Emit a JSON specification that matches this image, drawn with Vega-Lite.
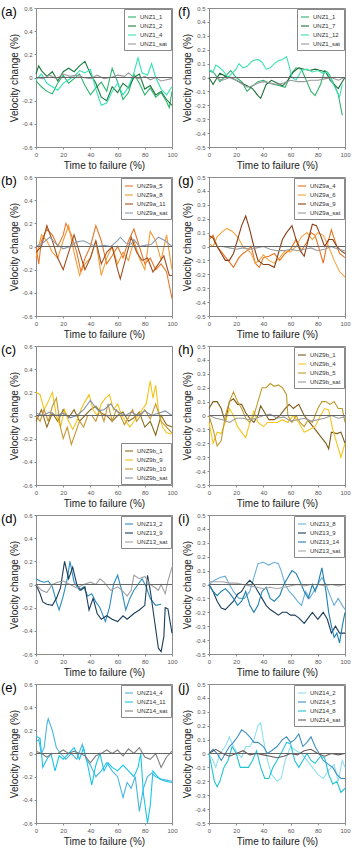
{
"$schema":"https://vega.github.io/schema/vega-lite/v6.json",
"background":"white",
"padding":{"left":0,"top":4,"right":0,"bottom":0},
"config":{
"font":"Liberation Sans",
"view":{"stroke":"#8c8c8c","strokeWidth":1},
"axis":{"grid":false,"domainColor":"#8c8c8c","tickColor":"#8c8c8c","tickSize":2,"tickCount":12,"labelFontSize":6,"labelColor":"#555","labelPadding":2,"labelOverlap":false,"labelFlush":false,"titleFontSize":10,"titleFontWeight":"normal","titleColor":"#222"},
"axisX":{"titlePadding":3},
"axisY":{"titlePadding":2,"labelExpr":"datum.value === 0 ? '0' : replace(format(datum.value, '.1f'), '−', '-')"},
"legend":{"orient":"top-right","offset":1,"padding":3,"rowPadding":1,"labelFontSize":6,"labelColor":"#333","symbolType":"stroke","symbolSize":64,"symbolStrokeWidth":1.5,"strokeColor":"#888","fillColor":"white","labelOffset":3,"labelLimit":60},
"title":{"anchor":"start","frame":"group","fontSize":13,"fontWeight":"normal","color":"#000","offset":0,"dy":18,"baseline":"bottom"},
"line":{"strokeWidth":1.1}
},
"datasets":{
"a":[
{"s":"UNZ1_1","x":0,"y":-0.03},{"s":"UNZ1_1","x":4,"y":-0.08},{"s":"UNZ1_1","x":8,"y":-0.12},{"s":"UNZ1_1","x":12,"y":-0.14},{"s":"UNZ1_1","x":16,"y":-0.05},{"s":"UNZ1_1","x":20,"y":0.02},{"s":"UNZ1_1","x":24,"y":-0.05},{"s":"UNZ1_1","x":28,"y":-0.01},{"s":"UNZ1_1","x":32,"y":0.03},{"s":"UNZ1_1","x":36,"y":-0.07},{"s":"UNZ1_1","x":40,"y":-0.15},{"s":"UNZ1_1","x":44,"y":-0.09},{"s":"UNZ1_1","x":48,"y":-0.04},{"s":"UNZ1_1","x":52,"y":-0.12},{"s":"UNZ1_1","x":56,"y":0.08},{"s":"UNZ1_1","x":60,"y":-0.04},{"s":"UNZ1_1","x":64,"y":-0.19},{"s":"UNZ1_1","x":68,"y":-0.13},{"s":"UNZ1_1","x":72,"y":0.03},{"s":"UNZ1_1","x":76,"y":-0.05},{"s":"UNZ1_1","x":80,"y":-0.15},{"s":"UNZ1_1","x":84,"y":-0.09},{"s":"UNZ1_1","x":88,"y":-0.17},{"s":"UNZ1_1","x":92,"y":-0.13},{"s":"UNZ1_1","x":96,"y":-0.21},{"s":"UNZ1_1","x":98,"y":-0.26},{"s":"UNZ1_1","x":100,"y":-0.12},
{"s":"UNZ1_2","x":0,"y":0.03},{"s":"UNZ1_2","x":2,"y":0.1},{"s":"UNZ1_2","x":4,"y":0.06},{"s":"UNZ1_2","x":8,"y":0.01},{"s":"UNZ1_2","x":12,"y":0.05},{"s":"UNZ1_2","x":16,"y":-0.03},{"s":"UNZ1_2","x":20,"y":0.05},{"s":"UNZ1_2","x":24,"y":0.08},{"s":"UNZ1_2","x":28,"y":0.05},{"s":"UNZ1_2","x":32,"y":0.1},{"s":"UNZ1_2","x":36,"y":0.14},{"s":"UNZ1_2","x":40,"y":0.03},{"s":"UNZ1_2","x":44,"y":-0.05},{"s":"UNZ1_2","x":48,"y":-0.17},{"s":"UNZ1_2","x":52,"y":-0.2},{"s":"UNZ1_2","x":56,"y":-0.08},{"s":"UNZ1_2","x":60,"y":-0.13},{"s":"UNZ1_2","x":64,"y":-0.05},{"s":"UNZ1_2","x":68,"y":-0.09},{"s":"UNZ1_2","x":72,"y":0.0},{"s":"UNZ1_2","x":76,"y":0.03},{"s":"UNZ1_2","x":80,"y":-0.1},{"s":"UNZ1_2","x":84,"y":-0.07},{"s":"UNZ1_2","x":88,"y":-0.15},{"s":"UNZ1_2","x":92,"y":-0.12},{"s":"UNZ1_2","x":96,"y":-0.19},{"s":"UNZ1_2","x":100,"y":-0.24},
{"s":"UNZ1_4","x":0,"y":-0.02},{"s":"UNZ1_4","x":4,"y":0.03},{"s":"UNZ1_4","x":8,"y":-0.05},{"s":"UNZ1_4","x":12,"y":-0.08},{"s":"UNZ1_4","x":16,"y":-0.11},{"s":"UNZ1_4","x":20,"y":-0.05},{"s":"UNZ1_4","x":24,"y":-0.02},{"s":"UNZ1_4","x":28,"y":0.01},{"s":"UNZ1_4","x":32,"y":0.06},{"s":"UNZ1_4","x":36,"y":0.04},{"s":"UNZ1_4","x":40,"y":0.07},{"s":"UNZ1_4","x":44,"y":-0.1},{"s":"UNZ1_4","x":48,"y":-0.24},{"s":"UNZ1_4","x":52,"y":-0.22},{"s":"UNZ1_4","x":56,"y":-0.12},{"s":"UNZ1_4","x":60,"y":-0.05},{"s":"UNZ1_4","x":64,"y":-0.15},{"s":"UNZ1_4","x":68,"y":-0.08},{"s":"UNZ1_4","x":72,"y":0.04},{"s":"UNZ1_4","x":75,"y":0.17},{"s":"UNZ1_4","x":78,"y":0.04},{"s":"UNZ1_4","x":82,"y":0.02},{"s":"UNZ1_4","x":85,"y":0.12},{"s":"UNZ1_4","x":88,"y":0.0},{"s":"UNZ1_4","x":92,"y":-0.1},{"s":"UNZ1_4","x":96,"y":-0.15},{"s":"UNZ1_4","x":100,"y":-0.08},
{"s":"UNZ1_sat","x":0,"y":0.0},{"s":"UNZ1_sat","x":5,"y":-0.01},{"s":"UNZ1_sat","x":10,"y":0.02},{"s":"UNZ1_sat","x":15,"y":-0.01},{"s":"UNZ1_sat","x":20,"y":0.03},{"s":"UNZ1_sat","x":25,"y":0.01},{"s":"UNZ1_sat","x":30,"y":0.02},{"s":"UNZ1_sat","x":35,"y":0.0},{"s":"UNZ1_sat","x":40,"y":-0.01},{"s":"UNZ1_sat","x":45,"y":0.02},{"s":"UNZ1_sat","x":50,"y":-0.01},{"s":"UNZ1_sat","x":55,"y":0.0},{"s":"UNZ1_sat","x":60,"y":0.02},{"s":"UNZ1_sat","x":65,"y":0.01},{"s":"UNZ1_sat","x":68,"y":0.04},{"s":"UNZ1_sat","x":72,"y":0.0},{"s":"UNZ1_sat","x":76,"y":-0.01},{"s":"UNZ1_sat","x":80,"y":0.01},{"s":"UNZ1_sat","x":84,"y":-0.02},{"s":"UNZ1_sat","x":88,"y":0.0},{"s":"UNZ1_sat","x":92,"y":-0.03},{"s":"UNZ1_sat","x":96,"y":-0.02},{"s":"UNZ1_sat","x":100,"y":-0.01}
],
"f":[
{"s":"UNZ1_1","x":0,"y":0.05},{"s":"UNZ1_1","x":4,"y":0.03},{"s":"UNZ1_1","x":8,"y":-0.03},{"s":"UNZ1_1","x":12,"y":0.01},{"s":"UNZ1_1","x":16,"y":0.05},{"s":"UNZ1_1","x":20,"y":0.0},{"s":"UNZ1_1","x":24,"y":-0.03},{"s":"UNZ1_1","x":28,"y":-0.1},{"s":"UNZ1_1","x":32,"y":-0.06},{"s":"UNZ1_1","x":36,"y":-0.03},{"s":"UNZ1_1","x":40,"y":-0.02},{"s":"UNZ1_1","x":44,"y":-0.04},{"s":"UNZ1_1","x":48,"y":-0.05},{"s":"UNZ1_1","x":52,"y":-0.06},{"s":"UNZ1_1","x":56,"y":-0.07},{"s":"UNZ1_1","x":60,"y":0.02},{"s":"UNZ1_1","x":64,"y":0.07},{"s":"UNZ1_1","x":68,"y":0.06},{"s":"UNZ1_1","x":72,"y":-0.03},{"s":"UNZ1_1","x":75,"y":-0.1},{"s":"UNZ1_1","x":78,"y":-0.13},{"s":"UNZ1_1","x":82,"y":-0.05},{"s":"UNZ1_1","x":85,"y":0.05},{"s":"UNZ1_1","x":88,"y":0.03},{"s":"UNZ1_1","x":92,"y":-0.05},{"s":"UNZ1_1","x":95,"y":-0.12},{"s":"UNZ1_1","x":98,"y":-0.27},
{"s":"UNZ1_7","x":0,"y":0.0},{"s":"UNZ1_7","x":3,"y":-0.05},{"s":"UNZ1_7","x":6,"y":0.0},{"s":"UNZ1_7","x":8,"y":0.03},{"s":"UNZ1_7","x":12,"y":0.01},{"s":"UNZ1_7","x":16,"y":0.0},{"s":"UNZ1_7","x":20,"y":-0.02},{"s":"UNZ1_7","x":24,"y":-0.04},{"s":"UNZ1_7","x":28,"y":-0.06},{"s":"UNZ1_7","x":32,"y":-0.08},{"s":"UNZ1_7","x":36,"y":-0.13},{"s":"UNZ1_7","x":38,"y":-0.15},{"s":"UNZ1_7","x":42,"y":-0.05},{"s":"UNZ1_7","x":46,"y":-0.02},{"s":"UNZ1_7","x":50,"y":-0.04},{"s":"UNZ1_7","x":54,"y":-0.06},{"s":"UNZ1_7","x":58,"y":-0.02},{"s":"UNZ1_7","x":62,"y":0.04},{"s":"UNZ1_7","x":66,"y":0.07},{"s":"UNZ1_7","x":70,"y":0.06},{"s":"UNZ1_7","x":74,"y":0.05},{"s":"UNZ1_7","x":78,"y":0.06},{"s":"UNZ1_7","x":82,"y":0.05},{"s":"UNZ1_7","x":86,"y":0.04},{"s":"UNZ1_7","x":89,"y":-0.02},{"s":"UNZ1_7","x":92,"y":-0.05},{"s":"UNZ1_7","x":95,"y":-0.08},{"s":"UNZ1_7","x":98,"y":-0.03},{"s":"UNZ1_7","x":100,"y":0.0},
{"s":"UNZ1_12","x":0,"y":0.06},{"s":"UNZ1_12","x":3,"y":0.04},{"s":"UNZ1_12","x":5,"y":0.09},{"s":"UNZ1_12","x":8,"y":0.07},{"s":"UNZ1_12","x":11,"y":0.04},{"s":"UNZ1_12","x":14,"y":0.0},{"s":"UNZ1_12","x":17,"y":0.03},{"s":"UNZ1_12","x":20,"y":0.06},{"s":"UNZ1_12","x":22,"y":0.1},{"s":"UNZ1_12","x":25,"y":0.07},{"s":"UNZ1_12","x":28,"y":0.08},{"s":"UNZ1_12","x":32,"y":0.12},{"s":"UNZ1_12","x":36,"y":0.13},{"s":"UNZ1_12","x":39,"y":0.11},{"s":"UNZ1_12","x":42,"y":0.06},{"s":"UNZ1_12","x":45,"y":0.07},{"s":"UNZ1_12","x":48,"y":0.1},{"s":"UNZ1_12","x":51,"y":0.12},{"s":"UNZ1_12","x":54,"y":0.13},{"s":"UNZ1_12","x":57,"y":0.15},{"s":"UNZ1_12","x":59,"y":0.08},{"s":"UNZ1_12","x":61,"y":0.0},{"s":"UNZ1_12","x":64,"y":-0.02},{"s":"UNZ1_12","x":68,"y":0.05},{"s":"UNZ1_12","x":72,"y":0.06},{"s":"UNZ1_12","x":76,"y":0.04},{"s":"UNZ1_12","x":80,"y":0.05},{"s":"UNZ1_12","x":84,"y":0.03},{"s":"UNZ1_12","x":87,"y":0.04},{"s":"UNZ1_12","x":90,"y":-0.02},{"s":"UNZ1_12","x":93,"y":-0.08},{"s":"UNZ1_12","x":96,"y":-0.14},{"s":"UNZ1_12","x":98,"y":-0.05},
{"s":"UNZ1_sat","x":0,"y":0.0},{"s":"UNZ1_sat","x":5,"y":0.0},{"s":"UNZ1_sat","x":10,"y":-0.02},{"s":"UNZ1_sat","x":15,"y":0.0},{"s":"UNZ1_sat","x":20,"y":-0.02},{"s":"UNZ1_sat","x":25,"y":-0.05},{"s":"UNZ1_sat","x":28,"y":-0.07},{"s":"UNZ1_sat","x":32,"y":-0.06},{"s":"UNZ1_sat","x":36,"y":-0.04},{"s":"UNZ1_sat","x":40,"y":-0.03},{"s":"UNZ1_sat","x":45,"y":-0.04},{"s":"UNZ1_sat","x":50,"y":-0.05},{"s":"UNZ1_sat","x":55,"y":-0.04},{"s":"UNZ1_sat","x":60,"y":-0.02},{"s":"UNZ1_sat","x":65,"y":-0.03},{"s":"UNZ1_sat","x":70,"y":-0.03},{"s":"UNZ1_sat","x":75,"y":-0.02},{"s":"UNZ1_sat","x":80,"y":-0.02},{"s":"UNZ1_sat","x":85,"y":-0.01},{"s":"UNZ1_sat","x":90,"y":0.0},{"s":"UNZ1_sat","x":95,"y":-0.02},{"s":"UNZ1_sat","x":100,"y":0.0}
],
"b":[
{"s":"UNZ9a_5","x":0,"y":0.0},{"s":"UNZ9a_5","x":2,"y":-0.15},{"s":"UNZ9a_5","x":4,"y":0.05},{"s":"UNZ9a_5","x":8,"y":0.15},{"s":"UNZ9a_5","x":12,"y":0.1},{"s":"UNZ9a_5","x":16,"y":0.0},{"s":"UNZ9a_5","x":20,"y":0.1},{"s":"UNZ9a_5","x":22,"y":0.2},{"s":"UNZ9a_5","x":26,"y":0.1},{"s":"UNZ9a_5","x":30,"y":-0.05},{"s":"UNZ9a_5","x":33,"y":-0.22},{"s":"UNZ9a_5","x":36,"y":-0.1},{"s":"UNZ9a_5","x":40,"y":0.0},{"s":"UNZ9a_5","x":44,"y":0.18},{"s":"UNZ9a_5","x":48,"y":0.05},{"s":"UNZ9a_5","x":52,"y":-0.15},{"s":"UNZ9a_5","x":56,"y":-0.08},{"s":"UNZ9a_5","x":60,"y":0.0},{"s":"UNZ9a_5","x":64,"y":-0.1},{"s":"UNZ9a_5","x":68,"y":0.05},{"s":"UNZ9a_5","x":72,"y":0.15},{"s":"UNZ9a_5","x":76,"y":0.0},{"s":"UNZ9a_5","x":80,"y":-0.15},{"s":"UNZ9a_5","x":84,"y":-0.1},{"s":"UNZ9a_5","x":88,"y":-0.2},{"s":"UNZ9a_5","x":92,"y":-0.15},{"s":"UNZ9a_5","x":96,"y":-0.22},{"s":"UNZ9a_5","x":100,"y":-0.45},
{"s":"UNZ9a_8","x":0,"y":-0.1},{"s":"UNZ9a_8","x":4,"y":0.1},{"s":"UNZ9a_8","x":8,"y":0.05},{"s":"UNZ9a_8","x":12,"y":-0.05},{"s":"UNZ9a_8","x":16,"y":-0.1},{"s":"UNZ9a_8","x":20,"y":0.05},{"s":"UNZ9a_8","x":24,"y":0.18},{"s":"UNZ9a_8","x":28,"y":-0.05},{"s":"UNZ9a_8","x":32,"y":-0.25},{"s":"UNZ9a_8","x":36,"y":-0.15},{"s":"UNZ9a_8","x":40,"y":-0.1},{"s":"UNZ9a_8","x":44,"y":0.05},{"s":"UNZ9a_8","x":48,"y":-0.25},{"s":"UNZ9a_8","x":52,"y":-0.1},{"s":"UNZ9a_8","x":56,"y":0.0},{"s":"UNZ9a_8","x":60,"y":-0.15},{"s":"UNZ9a_8","x":64,"y":-0.05},{"s":"UNZ9a_8","x":68,"y":-0.12},{"s":"UNZ9a_8","x":72,"y":0.05},{"s":"UNZ9a_8","x":76,"y":-0.1},{"s":"UNZ9a_8","x":80,"y":-0.2},{"s":"UNZ9a_8","x":84,"y":0.13},{"s":"UNZ9a_8","x":88,"y":0.05},{"s":"UNZ9a_8","x":92,"y":-0.12},{"s":"UNZ9a_8","x":96,"y":0.1},{"s":"UNZ9a_8","x":100,"y":-0.2},
{"s":"UNZ9a_11","x":0,"y":-0.05},{"s":"UNZ9a_11","x":4,"y":0.0},{"s":"UNZ9a_11","x":8,"y":0.18},{"s":"UNZ9a_11","x":12,"y":0.05},{"s":"UNZ9a_11","x":16,"y":-0.1},{"s":"UNZ9a_11","x":20,"y":-0.2},{"s":"UNZ9a_11","x":24,"y":-0.05},{"s":"UNZ9a_11","x":28,"y":0.1},{"s":"UNZ9a_11","x":32,"y":-0.05},{"s":"UNZ9a_11","x":36,"y":-0.2},{"s":"UNZ9a_11","x":40,"y":-0.1},{"s":"UNZ9a_11","x":44,"y":0.05},{"s":"UNZ9a_11","x":48,"y":-0.15},{"s":"UNZ9a_11","x":52,"y":-0.05},{"s":"UNZ9a_11","x":56,"y":0.0},{"s":"UNZ9a_11","x":60,"y":-0.2},{"s":"UNZ9a_11","x":62,"y":-0.28},{"s":"UNZ9a_11","x":66,"y":-0.1},{"s":"UNZ9a_11","x":70,"y":0.08},{"s":"UNZ9a_11","x":74,"y":-0.05},{"s":"UNZ9a_11","x":78,"y":-0.12},{"s":"UNZ9a_11","x":82,"y":-0.1},{"s":"UNZ9a_11","x":86,"y":-0.22},{"s":"UNZ9a_11","x":90,"y":-0.15},{"s":"UNZ9a_11","x":94,"y":-0.08},{"s":"UNZ9a_11","x":98,"y":-0.25},{"s":"UNZ9a_11","x":100,"y":-0.25},
{"s":"UNZ9a_sat","x":0,"y":0.0},{"s":"UNZ9a_sat","x":5,"y":0.03},{"s":"UNZ9a_sat","x":10,"y":0.08},{"s":"UNZ9a_sat","x":15,"y":0.02},{"s":"UNZ9a_sat","x":20,"y":-0.02},{"s":"UNZ9a_sat","x":25,"y":0.0},{"s":"UNZ9a_sat","x":30,"y":0.04},{"s":"UNZ9a_sat","x":35,"y":0.05},{"s":"UNZ9a_sat","x":40,"y":0.02},{"s":"UNZ9a_sat","x":45,"y":0.0},{"s":"UNZ9a_sat","x":50,"y":0.01},{"s":"UNZ9a_sat","x":55,"y":0.0},{"s":"UNZ9a_sat","x":60,"y":0.05},{"s":"UNZ9a_sat","x":62,"y":0.08},{"s":"UNZ9a_sat","x":66,"y":0.03},{"s":"UNZ9a_sat","x":70,"y":0.02},{"s":"UNZ9a_sat","x":72,"y":0.06},{"s":"UNZ9a_sat","x":76,"y":0.0},{"s":"UNZ9a_sat","x":80,"y":0.01},{"s":"UNZ9a_sat","x":85,"y":0.02},{"s":"UNZ9a_sat","x":90,"y":0.08},{"s":"UNZ9a_sat","x":95,"y":0.05},{"s":"UNZ9a_sat","x":100,"y":0.0}
],
"g":[
{"s":"UNZ9a_4","x":0,"y":0.05},{"s":"UNZ9a_4","x":3,"y":0.08},{"s":"UNZ9a_4","x":6,"y":0.0},{"s":"UNZ9a_4","x":10,"y":-0.05},{"s":"UNZ9a_4","x":14,"y":-0.1},{"s":"UNZ9a_4","x":18,"y":-0.15},{"s":"UNZ9a_4","x":22,"y":-0.08},{"s":"UNZ9a_4","x":25,"y":-0.05},{"s":"UNZ9a_4","x":28,"y":-0.03},{"s":"UNZ9a_4","x":31,"y":0.0},{"s":"UNZ9a_4","x":34,"y":-0.12},{"s":"UNZ9a_4","x":37,"y":-0.15},{"s":"UNZ9a_4","x":40,"y":-0.08},{"s":"UNZ9a_4","x":44,"y":-0.07},{"s":"UNZ9a_4","x":48,"y":-0.05},{"s":"UNZ9a_4","x":52,"y":-0.1},{"s":"UNZ9a_4","x":56,"y":-0.05},{"s":"UNZ9a_4","x":60,"y":-0.02},{"s":"UNZ9a_4","x":64,"y":0.05},{"s":"UNZ9a_4","x":68,"y":-0.03},{"s":"UNZ9a_4","x":72,"y":0.03},{"s":"UNZ9a_4","x":75,"y":0.1},{"s":"UNZ9a_4","x":78,"y":0.08},{"s":"UNZ9a_4","x":82,"y":-0.05},{"s":"UNZ9a_4","x":84,"y":-0.12},{"s":"UNZ9a_4","x":86,"y":-0.02},{"s":"UNZ9a_4","x":90,"y":0.12},{"s":"UNZ9a_4","x":93,"y":0.03},{"s":"UNZ9a_4","x":96,"y":-0.05},{"s":"UNZ9a_4","x":100,"y":-0.08},
{"s":"UNZ9a_6","x":0,"y":0.02},{"s":"UNZ9a_6","x":3,"y":0.0},{"s":"UNZ9a_6","x":6,"y":0.07},{"s":"UNZ9a_6","x":9,"y":0.1},{"s":"UNZ9a_6","x":13,"y":0.13},{"s":"UNZ9a_6","x":17,"y":0.11},{"s":"UNZ9a_6","x":21,"y":0.07},{"s":"UNZ9a_6","x":25,"y":0.0},{"s":"UNZ9a_6","x":28,"y":-0.02},{"s":"UNZ9a_6","x":31,"y":-0.05},{"s":"UNZ9a_6","x":34,"y":-0.12},{"s":"UNZ9a_6","x":37,"y":-0.1},{"s":"UNZ9a_6","x":40,"y":-0.06},{"s":"UNZ9a_6","x":44,"y":-0.1},{"s":"UNZ9a_6","x":48,"y":-0.12},{"s":"UNZ9a_6","x":52,"y":-0.08},{"s":"UNZ9a_6","x":56,"y":-0.03},{"s":"UNZ9a_6","x":60,"y":-0.04},{"s":"UNZ9a_6","x":64,"y":0.0},{"s":"UNZ9a_6","x":68,"y":0.07},{"s":"UNZ9a_6","x":72,"y":0.1},{"s":"UNZ9a_6","x":76,"y":0.05},{"s":"UNZ9a_6","x":80,"y":0.1},{"s":"UNZ9a_6","x":84,"y":0.08},{"s":"UNZ9a_6","x":88,"y":0.0},{"s":"UNZ9a_6","x":92,"y":-0.1},{"s":"UNZ9a_6","x":96,"y":-0.18},{"s":"UNZ9a_6","x":100,"y":-0.22},
{"s":"UNZ9a_9","x":0,"y":0.08},{"s":"UNZ9a_9","x":3,"y":0.06},{"s":"UNZ9a_9","x":6,"y":0.0},{"s":"UNZ9a_9","x":9,"y":-0.05},{"s":"UNZ9a_9","x":12,"y":-0.1},{"s":"UNZ9a_9","x":15,"y":-0.1},{"s":"UNZ9a_9","x":18,"y":-0.05},{"s":"UNZ9a_9","x":21,"y":0.05},{"s":"UNZ9a_9","x":24,"y":0.15},{"s":"UNZ9a_9","x":27,"y":0.22},{"s":"UNZ9a_9","x":30,"y":0.12},{"s":"UNZ9a_9","x":33,"y":0.0},{"s":"UNZ9a_9","x":36,"y":-0.1},{"s":"UNZ9a_9","x":40,"y":-0.13},{"s":"UNZ9a_9","x":44,"y":-0.13},{"s":"UNZ9a_9","x":48,"y":-0.15},{"s":"UNZ9a_9","x":51,"y":-0.05},{"s":"UNZ9a_9","x":54,"y":0.05},{"s":"UNZ9a_9","x":57,"y":0.1},{"s":"UNZ9a_9","x":61,"y":0.15},{"s":"UNZ9a_9","x":64,"y":0.05},{"s":"UNZ9a_9","x":67,"y":-0.03},{"s":"UNZ9a_9","x":70,"y":-0.07},{"s":"UNZ9a_9","x":73,"y":0.05},{"s":"UNZ9a_9","x":76,"y":0.16},{"s":"UNZ9a_9","x":79,"y":0.15},{"s":"UNZ9a_9","x":82,"y":0.08},{"s":"UNZ9a_9","x":85,"y":0.0},{"s":"UNZ9a_9","x":88,"y":0.05},{"s":"UNZ9a_9","x":91,"y":0.05},{"s":"UNZ9a_9","x":94,"y":0.0},{"s":"UNZ9a_9","x":97,"y":-0.03},{"s":"UNZ9a_9","x":100,"y":-0.05},
{"s":"UNZ9a_sat","x":0,"y":0.0},{"s":"UNZ9a_sat","x":5,"y":0.0},{"s":"UNZ9a_sat","x":10,"y":0.0},{"s":"UNZ9a_sat","x":15,"y":-0.01},{"s":"UNZ9a_sat","x":20,"y":-0.02},{"s":"UNZ9a_sat","x":25,"y":-0.01},{"s":"UNZ9a_sat","x":30,"y":-0.02},{"s":"UNZ9a_sat","x":35,"y":-0.01},{"s":"UNZ9a_sat","x":40,"y":0.0},{"s":"UNZ9a_sat","x":45,"y":-0.02},{"s":"UNZ9a_sat","x":50,"y":-0.03},{"s":"UNZ9a_sat","x":55,"y":-0.03},{"s":"UNZ9a_sat","x":60,"y":-0.02},{"s":"UNZ9a_sat","x":65,"y":-0.03},{"s":"UNZ9a_sat","x":70,"y":-0.02},{"s":"UNZ9a_sat","x":75,"y":-0.01},{"s":"UNZ9a_sat","x":80,"y":-0.03},{"s":"UNZ9a_sat","x":85,"y":-0.02},{"s":"UNZ9a_sat","x":90,"y":0.0},{"s":"UNZ9a_sat","x":95,"y":-0.02},{"s":"UNZ9a_sat","x":100,"y":-0.03}
],
"c":[
{"s":"UNZ9b_1","x":0,"y":-0.05},{"s":"UNZ9b_1","x":4,"y":0.05},{"s":"UNZ9b_1","x":8,"y":-0.1},{"s":"UNZ9b_1","x":12,"y":0.02},{"s":"UNZ9b_1","x":16,"y":-0.05},{"s":"UNZ9b_1","x":20,"y":0.05},{"s":"UNZ9b_1","x":24,"y":-0.02},{"s":"UNZ9b_1","x":28,"y":0.05},{"s":"UNZ9b_1","x":32,"y":-0.05},{"s":"UNZ9b_1","x":36,"y":0.0},{"s":"UNZ9b_1","x":40,"y":0.05},{"s":"UNZ9b_1","x":44,"y":0.08},{"s":"UNZ9b_1","x":48,"y":0.02},{"s":"UNZ9b_1","x":52,"y":0.0},{"s":"UNZ9b_1","x":56,"y":-0.05},{"s":"UNZ9b_1","x":60,"y":0.0},{"s":"UNZ9b_1","x":64,"y":0.03},{"s":"UNZ9b_1","x":68,"y":-0.05},{"s":"UNZ9b_1","x":72,"y":-0.02},{"s":"UNZ9b_1","x":76,"y":0.03},{"s":"UNZ9b_1","x":80,"y":-0.1},{"s":"UNZ9b_1","x":84,"y":-0.05},{"s":"UNZ9b_1","x":88,"y":-0.17},{"s":"UNZ9b_1","x":92,"y":0.0},{"s":"UNZ9b_1","x":96,"y":-0.08},{"s":"UNZ9b_1","x":100,"y":-0.1},
{"s":"UNZ9b_9","x":0,"y":0.2},{"s":"UNZ9b_9","x":3,"y":0.18},{"s":"UNZ9b_9","x":6,"y":0.05},{"s":"UNZ9b_9","x":9,"y":0.12},{"s":"UNZ9b_9","x":12,"y":0.2},{"s":"UNZ9b_9","x":15,"y":0.0},{"s":"UNZ9b_9","x":18,"y":-0.1},{"s":"UNZ9b_9","x":21,"y":0.05},{"s":"UNZ9b_9","x":24,"y":-0.05},{"s":"UNZ9b_9","x":27,"y":-0.12},{"s":"UNZ9b_9","x":30,"y":-0.05},{"s":"UNZ9b_9","x":33,"y":0.05},{"s":"UNZ9b_9","x":36,"y":0.12},{"s":"UNZ9b_9","x":39,"y":0.18},{"s":"UNZ9b_9","x":42,"y":0.05},{"s":"UNZ9b_9","x":45,"y":0.0},{"s":"UNZ9b_9","x":48,"y":0.1},{"s":"UNZ9b_9","x":51,"y":0.15},{"s":"UNZ9b_9","x":54,"y":0.18},{"s":"UNZ9b_9","x":57,"y":0.05},{"s":"UNZ9b_9","x":60,"y":0.1},{"s":"UNZ9b_9","x":63,"y":0.0},{"s":"UNZ9b_9","x":66,"y":-0.05},{"s":"UNZ9b_9","x":69,"y":-0.1},{"s":"UNZ9b_9","x":72,"y":-0.05},{"s":"UNZ9b_9","x":75,"y":0.0},{"s":"UNZ9b_9","x":78,"y":0.05},{"s":"UNZ9b_9","x":81,"y":0.1},{"s":"UNZ9b_9","x":84,"y":0.3},{"s":"UNZ9b_9","x":86,"y":0.15},{"s":"UNZ9b_9","x":88,"y":0.26},{"s":"UNZ9b_9","x":90,"y":0.05},{"s":"UNZ9b_9","x":93,"y":-0.1},{"s":"UNZ9b_9","x":96,"y":-0.15},{"s":"UNZ9b_9","x":100,"y":-0.16},
{"s":"UNZ9b_10","x":0,"y":0.0},{"s":"UNZ9b_10","x":3,"y":-0.05},{"s":"UNZ9b_10","x":6,"y":0.05},{"s":"UNZ9b_10","x":9,"y":-0.05},{"s":"UNZ9b_10","x":12,"y":0.08},{"s":"UNZ9b_10","x":15,"y":0.15},{"s":"UNZ9b_10","x":18,"y":-0.1},{"s":"UNZ9b_10","x":20,"y":-0.2},{"s":"UNZ9b_10","x":23,"y":-0.1},{"s":"UNZ9b_10","x":26,"y":-0.25},{"s":"UNZ9b_10","x":29,"y":-0.15},{"s":"UNZ9b_10","x":32,"y":-0.05},{"s":"UNZ9b_10","x":35,"y":-0.1},{"s":"UNZ9b_10","x":38,"y":0.0},{"s":"UNZ9b_10","x":41,"y":0.0},{"s":"UNZ9b_10","x":44,"y":-0.05},{"s":"UNZ9b_10","x":47,"y":0.05},{"s":"UNZ9b_10","x":50,"y":-0.05},{"s":"UNZ9b_10","x":53,"y":0.1},{"s":"UNZ9b_10","x":56,"y":-0.05},{"s":"UNZ9b_10","x":59,"y":0.05},{"s":"UNZ9b_10","x":62,"y":0.0},{"s":"UNZ9b_10","x":65,"y":-0.08},{"s":"UNZ9b_10","x":68,"y":-0.02},{"s":"UNZ9b_10","x":71,"y":0.05},{"s":"UNZ9b_10","x":74,"y":-0.05},{"s":"UNZ9b_10","x":77,"y":0.0},{"s":"UNZ9b_10","x":80,"y":0.05},{"s":"UNZ9b_10","x":84,"y":-0.03},{"s":"UNZ9b_10","x":88,"y":0.1},{"s":"UNZ9b_10","x":92,"y":-0.05},{"s":"UNZ9b_10","x":96,"y":-0.1},{"s":"UNZ9b_10","x":100,"y":-0.15},
{"s":"UNZ9b_sat","x":0,"y":0.02},{"s":"UNZ9b_sat","x":5,"y":0.0},{"s":"UNZ9b_sat","x":10,"y":0.03},{"s":"UNZ9b_sat","x":15,"y":0.0},{"s":"UNZ9b_sat","x":20,"y":0.02},{"s":"UNZ9b_sat","x":25,"y":-0.02},{"s":"UNZ9b_sat","x":30,"y":0.0},{"s":"UNZ9b_sat","x":35,"y":0.05},{"s":"UNZ9b_sat","x":40,"y":0.13},{"s":"UNZ9b_sat","x":43,"y":0.08},{"s":"UNZ9b_sat","x":46,"y":0.04},{"s":"UNZ9b_sat","x":50,"y":0.05},{"s":"UNZ9b_sat","x":55,"y":0.1},{"s":"UNZ9b_sat","x":58,"y":0.05},{"s":"UNZ9b_sat","x":62,"y":0.02},{"s":"UNZ9b_sat","x":66,"y":0.0},{"s":"UNZ9b_sat","x":70,"y":0.03},{"s":"UNZ9b_sat","x":75,"y":0.0},{"s":"UNZ9b_sat","x":80,"y":0.04},{"s":"UNZ9b_sat","x":85,"y":0.0},{"s":"UNZ9b_sat","x":90,"y":0.02},{"s":"UNZ9b_sat","x":95,"y":0.04},{"s":"UNZ9b_sat","x":100,"y":0.0}
],
"h":[
{"s":"UNZ9b_1","x":0,"y":0.05},{"s":"UNZ9b_1","x":3,"y":0.1},{"s":"UNZ9b_1","x":6,"y":0.1},{"s":"UNZ9b_1","x":9,"y":0.05},{"s":"UNZ9b_1","x":12,"y":-0.05},{"s":"UNZ9b_1","x":15,"y":0.1},{"s":"UNZ9b_1","x":18,"y":0.12},{"s":"UNZ9b_1","x":21,"y":0.08},{"s":"UNZ9b_1","x":24,"y":0.08},{"s":"UNZ9b_1","x":27,"y":0.02},{"s":"UNZ9b_1","x":30,"y":-0.02},{"s":"UNZ9b_1","x":33,"y":-0.05},{"s":"UNZ9b_1","x":36,"y":0.0},{"s":"UNZ9b_1","x":38,"y":0.07},{"s":"UNZ9b_1","x":41,"y":0.02},{"s":"UNZ9b_1","x":44,"y":-0.03},{"s":"UNZ9b_1","x":48,"y":-0.03},{"s":"UNZ9b_1","x":52,"y":0.0},{"s":"UNZ9b_1","x":56,"y":0.05},{"s":"UNZ9b_1","x":59,"y":0.08},{"s":"UNZ9b_1","x":62,"y":0.05},{"s":"UNZ9b_1","x":66,"y":0.08},{"s":"UNZ9b_1","x":70,"y":0.0},{"s":"UNZ9b_1","x":74,"y":-0.05},{"s":"UNZ9b_1","x":78,"y":-0.1},{"s":"UNZ9b_1","x":82,"y":-0.15},{"s":"UNZ9b_1","x":86,"y":-0.2},{"s":"UNZ9b_1","x":88,"y":-0.24},{"s":"UNZ9b_1","x":90,"y":-0.12},{"s":"UNZ9b_1","x":94,"y":-0.13},{"s":"UNZ9b_1","x":97,"y":-0.12},{"s":"UNZ9b_1","x":100,"y":-0.2},
{"s":"UNZ9b_4","x":0,"y":-0.05},{"s":"UNZ9b_4","x":3,"y":-0.2},{"s":"UNZ9b_4","x":6,"y":-0.12},{"s":"UNZ9b_4","x":9,"y":-0.13},{"s":"UNZ9b_4","x":12,"y":-0.05},{"s":"UNZ9b_4","x":15,"y":0.05},{"s":"UNZ9b_4","x":18,"y":0.0},{"s":"UNZ9b_4","x":21,"y":-0.08},{"s":"UNZ9b_4","x":24,"y":-0.12},{"s":"UNZ9b_4","x":27,"y":-0.16},{"s":"UNZ9b_4","x":30,"y":-0.05},{"s":"UNZ9b_4","x":33,"y":0.03},{"s":"UNZ9b_4","x":36,"y":-0.05},{"s":"UNZ9b_4","x":40,"y":-0.08},{"s":"UNZ9b_4","x":43,"y":-0.05},{"s":"UNZ9b_4","x":46,"y":-0.05},{"s":"UNZ9b_4","x":50,"y":-0.05},{"s":"UNZ9b_4","x":54,"y":-0.03},{"s":"UNZ9b_4","x":58,"y":-0.05},{"s":"UNZ9b_4","x":62,"y":0.0},{"s":"UNZ9b_4","x":66,"y":-0.05},{"s":"UNZ9b_4","x":70,"y":-0.12},{"s":"UNZ9b_4","x":74,"y":-0.1},{"s":"UNZ9b_4","x":78,"y":-0.08},{"s":"UNZ9b_4","x":82,"y":0.0},{"s":"UNZ9b_4","x":85,"y":0.05},{"s":"UNZ9b_4","x":88,"y":0.04},{"s":"UNZ9b_4","x":91,"y":-0.1},{"s":"UNZ9b_4","x":94,"y":-0.2},{"s":"UNZ9b_4","x":97,"y":-0.3},{"s":"UNZ9b_4","x":100,"y":-0.2},
{"s":"UNZ9b_5","x":0,"y":0.0},{"s":"UNZ9b_5","x":3,"y":-0.1},{"s":"UNZ9b_5","x":6,"y":-0.22},{"s":"UNZ9b_5","x":9,"y":-0.18},{"s":"UNZ9b_5","x":12,"y":0.0},{"s":"UNZ9b_5","x":15,"y":0.1},{"s":"UNZ9b_5","x":18,"y":0.17},{"s":"UNZ9b_5","x":21,"y":0.1},{"s":"UNZ9b_5","x":24,"y":0.05},{"s":"UNZ9b_5","x":27,"y":-0.02},{"s":"UNZ9b_5","x":30,"y":-0.05},{"s":"UNZ9b_5","x":33,"y":0.0},{"s":"UNZ9b_5","x":36,"y":0.1},{"s":"UNZ9b_5","x":39,"y":0.2},{"s":"UNZ9b_5","x":42,"y":0.2},{"s":"UNZ9b_5","x":45,"y":0.23},{"s":"UNZ9b_5","x":48,"y":0.21},{"s":"UNZ9b_5","x":51,"y":0.22},{"s":"UNZ9b_5","x":54,"y":0.2},{"s":"UNZ9b_5","x":57,"y":0.15},{"s":"UNZ9b_5","x":58,"y":0.0},{"s":"UNZ9b_5","x":61,"y":-0.05},{"s":"UNZ9b_5","x":64,"y":0.0},{"s":"UNZ9b_5","x":67,"y":-0.05},{"s":"UNZ9b_5","x":70,"y":-0.08},{"s":"UNZ9b_5","x":73,"y":-0.03},{"s":"UNZ9b_5","x":76,"y":-0.05},{"s":"UNZ9b_5","x":80,"y":0.05},{"s":"UNZ9b_5","x":83,"y":0.1},{"s":"UNZ9b_5","x":86,"y":0.1},{"s":"UNZ9b_5","x":89,"y":0.08},{"s":"UNZ9b_5","x":92,"y":0.1},{"s":"UNZ9b_5","x":95,"y":0.05},{"s":"UNZ9b_5","x":98,"y":0.05},{"s":"UNZ9b_5","x":100,"y":-0.05},
{"s":"UNZ9b_sat","x":0,"y":0.0},{"s":"UNZ9b_sat","x":5,"y":-0.02},{"s":"UNZ9b_sat","x":10,"y":-0.03},{"s":"UNZ9b_sat","x":15,"y":-0.05},{"s":"UNZ9b_sat","x":20,"y":-0.02},{"s":"UNZ9b_sat","x":25,"y":-0.02},{"s":"UNZ9b_sat","x":30,"y":-0.03},{"s":"UNZ9b_sat","x":35,"y":-0.02},{"s":"UNZ9b_sat","x":40,"y":0.0},{"s":"UNZ9b_sat","x":45,"y":0.01},{"s":"UNZ9b_sat","x":50,"y":-0.02},{"s":"UNZ9b_sat","x":55,"y":-0.01},{"s":"UNZ9b_sat","x":60,"y":-0.04},{"s":"UNZ9b_sat","x":65,"y":-0.03},{"s":"UNZ9b_sat","x":70,"y":-0.02},{"s":"UNZ9b_sat","x":75,"y":-0.04},{"s":"UNZ9b_sat","x":80,"y":-0.03},{"s":"UNZ9b_sat","x":85,"y":-0.02},{"s":"UNZ9b_sat","x":90,"y":0.0},{"s":"UNZ9b_sat","x":95,"y":-0.02},{"s":"UNZ9b_sat","x":100,"y":-0.01}
],
"d":[
{"s":"UNZ13_2","x":0,"y":0.05},{"s":"UNZ13_2","x":3,"y":0.03},{"s":"UNZ13_2","x":6,"y":0.02},{"s":"UNZ13_2","x":9,"y":0.03},{"s":"UNZ13_2","x":12,"y":-0.02},{"s":"UNZ13_2","x":15,"y":-0.15},{"s":"UNZ13_2","x":17,"y":-0.22},{"s":"UNZ13_2","x":20,"y":-0.1},{"s":"UNZ13_2","x":23,"y":0.05},{"s":"UNZ13_2","x":25,"y":0.2},{"s":"UNZ13_2","x":28,"y":0.02},{"s":"UNZ13_2","x":32,"y":-0.05},{"s":"UNZ13_2","x":35,"y":-0.02},{"s":"UNZ13_2","x":38,"y":-0.1},{"s":"UNZ13_2","x":41,"y":-0.08},{"s":"UNZ13_2","x":44,"y":-0.15},{"s":"UNZ13_2","x":47,"y":-0.2},{"s":"UNZ13_2","x":51,"y":-0.32},{"s":"UNZ13_2","x":54,"y":-0.2},{"s":"UNZ13_2","x":57,"y":0.0},{"s":"UNZ13_2","x":60,"y":0.08},{"s":"UNZ13_2","x":63,"y":-0.05},{"s":"UNZ13_2","x":66,"y":-0.22},{"s":"UNZ13_2","x":69,"y":-0.12},{"s":"UNZ13_2","x":72,"y":-0.05},{"s":"UNZ13_2","x":75,"y":0.0},{"s":"UNZ13_2","x":78,"y":0.05},{"s":"UNZ13_2","x":81,"y":-0.02},{"s":"UNZ13_2","x":84,"y":-0.12},{"s":"UNZ13_2","x":88,"y":-0.18},{"s":"UNZ13_2","x":92,"y":-0.17},
{"s":"UNZ13_9","x":0,"y":0.0},{"s":"UNZ13_9","x":3,"y":-0.08},{"s":"UNZ13_9","x":5,"y":-0.15},{"s":"UNZ13_9","x":8,"y":-0.17},{"s":"UNZ13_9","x":12,"y":-0.18},{"s":"UNZ13_9","x":15,"y":-0.12},{"s":"UNZ13_9","x":18,"y":-0.03},{"s":"UNZ13_9","x":21,"y":0.2},{"s":"UNZ13_9","x":24,"y":0.05},{"s":"UNZ13_9","x":27,"y":0.15},{"s":"UNZ13_9","x":30,"y":0.0},{"s":"UNZ13_9","x":33,"y":-0.05},{"s":"UNZ13_9","x":36,"y":-0.02},{"s":"UNZ13_9","x":39,"y":-0.22},{"s":"UNZ13_9","x":42,"y":-0.12},{"s":"UNZ13_9","x":45,"y":-0.25},{"s":"UNZ13_9","x":48,"y":-0.3},{"s":"UNZ13_9","x":52,"y":-0.27},{"s":"UNZ13_9","x":56,"y":-0.3},{"s":"UNZ13_9","x":60,"y":-0.32},{"s":"UNZ13_9","x":64,"y":-0.27},{"s":"UNZ13_9","x":67,"y":-0.3},{"s":"UNZ13_9","x":72,"y":-0.25},{"s":"UNZ13_9","x":76,"y":-0.22},{"s":"UNZ13_9","x":80,"y":-0.18},{"s":"UNZ13_9","x":82,"y":0.08},{"s":"UNZ13_9","x":84,"y":-0.05},{"s":"UNZ13_9","x":87,"y":-0.3},{"s":"UNZ13_9","x":90,"y":-0.55},{"s":"UNZ13_9","x":92,"y":-0.58},{"s":"UNZ13_9","x":94,"y":-0.45},{"s":"UNZ13_9","x":95,"y":-0.2},{"s":"UNZ13_9","x":97,"y":-0.21},{"s":"UNZ13_9","x":100,"y":-0.42},
{"s":"UNZ13_sat","x":0,"y":0.0},{"s":"UNZ13_sat","x":4,"y":-0.05},{"s":"UNZ13_sat","x":8,"y":-0.07},{"s":"UNZ13_sat","x":12,"y":0.0},{"s":"UNZ13_sat","x":16,"y":0.02},{"s":"UNZ13_sat","x":20,"y":0.03},{"s":"UNZ13_sat","x":25,"y":0.0},{"s":"UNZ13_sat","x":30,"y":-0.03},{"s":"UNZ13_sat","x":35,"y":0.0},{"s":"UNZ13_sat","x":40,"y":0.02},{"s":"UNZ13_sat","x":44,"y":0.0},{"s":"UNZ13_sat","x":47,"y":0.05},{"s":"UNZ13_sat","x":50,"y":0.02},{"s":"UNZ13_sat","x":55,"y":-0.05},{"s":"UNZ13_sat","x":60,"y":-0.02},{"s":"UNZ13_sat","x":64,"y":-0.06},{"s":"UNZ13_sat","x":67,"y":-0.1},{"s":"UNZ13_sat","x":70,"y":-0.05},{"s":"UNZ13_sat","x":72,"y":0.08},{"s":"UNZ13_sat","x":76,"y":0.05},{"s":"UNZ13_sat","x":80,"y":0.07},{"s":"UNZ13_sat","x":84,"y":0.0},{"s":"UNZ13_sat","x":88,"y":-0.03},{"s":"UNZ13_sat","x":90,"y":-0.05},{"s":"UNZ13_sat","x":92,"y":0.0},{"s":"UNZ13_sat","x":95,"y":-0.08},{"s":"UNZ13_sat","x":97,"y":0.03},{"s":"UNZ13_sat","x":100,"y":0.15}
],
"i":[
{"s":"UNZ13_8","x":0,"y":0.0},{"s":"UNZ13_8","x":4,"y":0.03},{"s":"UNZ13_8","x":8,"y":0.05},{"s":"UNZ13_8","x":12,"y":0.06},{"s":"UNZ13_8","x":15,"y":0.0},{"s":"UNZ13_8","x":18,"y":-0.05},{"s":"UNZ13_8","x":22,"y":-0.1},{"s":"UNZ13_8","x":26,"y":-0.1},{"s":"UNZ13_8","x":30,"y":-0.05},{"s":"UNZ13_8","x":33,"y":0.05},{"s":"UNZ13_8","x":36,"y":0.15},{"s":"UNZ13_8","x":40,"y":0.16},{"s":"UNZ13_8","x":44,"y":0.14},{"s":"UNZ13_8","x":48,"y":0.16},{"s":"UNZ13_8","x":51,"y":0.15},{"s":"UNZ13_8","x":53,"y":0.1},{"s":"UNZ13_8","x":56,"y":0.0},{"s":"UNZ13_8","x":59,"y":-0.05},{"s":"UNZ13_8","x":62,"y":-0.08},{"s":"UNZ13_8","x":65,"y":-0.12},{"s":"UNZ13_8","x":68,"y":-0.15},{"s":"UNZ13_8","x":71,"y":-0.05},{"s":"UNZ13_8","x":74,"y":-0.1},{"s":"UNZ13_8","x":77,"y":-0.05},{"s":"UNZ13_8","x":80,"y":0.0},{"s":"UNZ13_8","x":83,"y":0.05},{"s":"UNZ13_8","x":86,"y":0.0},{"s":"UNZ13_8","x":89,"y":-0.08},{"s":"UNZ13_8","x":92,"y":-0.15},{"s":"UNZ13_8","x":95,"y":-0.1},{"s":"UNZ13_8","x":98,"y":-0.15},{"s":"UNZ13_8","x":100,"y":-0.18},
{"s":"UNZ13_9","x":0,"y":0.0},{"s":"UNZ13_9","x":3,"y":-0.05},{"s":"UNZ13_9","x":6,"y":-0.12},{"s":"UNZ13_9","x":9,"y":-0.17},{"s":"UNZ13_9","x":12,"y":-0.18},{"s":"UNZ13_9","x":15,"y":-0.15},{"s":"UNZ13_9","x":18,"y":-0.12},{"s":"UNZ13_9","x":21,"y":-0.07},{"s":"UNZ13_9","x":24,"y":-0.05},{"s":"UNZ13_9","x":27,"y":0.0},{"s":"UNZ13_9","x":30,"y":0.03},{"s":"UNZ13_9","x":33,"y":0.0},{"s":"UNZ13_9","x":36,"y":-0.05},{"s":"UNZ13_9","x":39,"y":-0.1},{"s":"UNZ13_9","x":42,"y":-0.15},{"s":"UNZ13_9","x":45,"y":-0.18},{"s":"UNZ13_9","x":48,"y":-0.2},{"s":"UNZ13_9","x":51,"y":-0.22},{"s":"UNZ13_9","x":54,"y":-0.2},{"s":"UNZ13_9","x":57,"y":-0.2},{"s":"UNZ13_9","x":60,"y":-0.22},{"s":"UNZ13_9","x":63,"y":-0.22},{"s":"UNZ13_9","x":66,"y":-0.24},{"s":"UNZ13_9","x":70,"y":-0.28},{"s":"UNZ13_9","x":73,"y":-0.24},{"s":"UNZ13_9","x":76,"y":-0.2},{"s":"UNZ13_9","x":80,"y":-0.25},{"s":"UNZ13_9","x":84,"y":-0.2},{"s":"UNZ13_9","x":87,"y":-0.25},{"s":"UNZ13_9","x":90,"y":-0.35},{"s":"UNZ13_9","x":93,"y":-0.3},{"s":"UNZ13_9","x":96,"y":-0.35},{"s":"UNZ13_9","x":100,"y":-0.35},
{"s":"UNZ13_14","x":0,"y":0.0},{"s":"UNZ13_14","x":3,"y":-0.05},{"s":"UNZ13_14","x":6,"y":-0.08},{"s":"UNZ13_14","x":9,"y":-0.05},{"s":"UNZ13_14","x":12,"y":-0.03},{"s":"UNZ13_14","x":15,"y":-0.06},{"s":"UNZ13_14","x":18,"y":-0.1},{"s":"UNZ13_14","x":21,"y":-0.15},{"s":"UNZ13_14","x":24,"y":-0.12},{"s":"UNZ13_14","x":27,"y":-0.05},{"s":"UNZ13_14","x":30,"y":-0.15},{"s":"UNZ13_14","x":33,"y":-0.2},{"s":"UNZ13_14","x":36,"y":-0.15},{"s":"UNZ13_14","x":39,"y":-0.05},{"s":"UNZ13_14","x":42,"y":-0.02},{"s":"UNZ13_14","x":45,"y":-0.1},{"s":"UNZ13_14","x":48,"y":-0.12},{"s":"UNZ13_14","x":52,"y":-0.08},{"s":"UNZ13_14","x":55,"y":0.0},{"s":"UNZ13_14","x":58,"y":0.05},{"s":"UNZ13_14","x":61,"y":0.1},{"s":"UNZ13_14","x":64,"y":0.08},{"s":"UNZ13_14","x":67,"y":0.02},{"s":"UNZ13_14","x":70,"y":-0.05},{"s":"UNZ13_14","x":73,"y":-0.1},{"s":"UNZ13_14","x":76,"y":0.0},{"s":"UNZ13_14","x":78,"y":-0.05},{"s":"UNZ13_14","x":80,"y":0.0},{"s":"UNZ13_14","x":83,"y":0.12},{"s":"UNZ13_14","x":86,"y":-0.05},{"s":"UNZ13_14","x":88,"y":-0.2},{"s":"UNZ13_14","x":90,"y":-0.3},{"s":"UNZ13_14","x":92,"y":-0.38},{"s":"UNZ13_14","x":94,"y":-0.35},{"s":"UNZ13_14","x":96,"y":-0.42},{"s":"UNZ13_14","x":98,"y":-0.3},{"s":"UNZ13_14","x":100,"y":-0.2},
{"s":"UNZ13_sat","x":0,"y":0.02},{"s":"UNZ13_sat","x":5,"y":0.02},{"s":"UNZ13_sat","x":10,"y":0.02},{"s":"UNZ13_sat","x":15,"y":0.01},{"s":"UNZ13_sat","x":20,"y":0.01},{"s":"UNZ13_sat","x":25,"y":0.0},{"s":"UNZ13_sat","x":30,"y":-0.01},{"s":"UNZ13_sat","x":35,"y":-0.02},{"s":"UNZ13_sat","x":40,"y":-0.03},{"s":"UNZ13_sat","x":45,"y":-0.02},{"s":"UNZ13_sat","x":50,"y":-0.03},{"s":"UNZ13_sat","x":55,"y":-0.02},{"s":"UNZ13_sat","x":60,"y":-0.01},{"s":"UNZ13_sat","x":65,"y":0.0},{"s":"UNZ13_sat","x":70,"y":-0.01},{"s":"UNZ13_sat","x":75,"y":0.0},{"s":"UNZ13_sat","x":80,"y":0.0},{"s":"UNZ13_sat","x":85,"y":-0.01},{"s":"UNZ13_sat","x":90,"y":0.0},{"s":"UNZ13_sat","x":95,"y":-0.01},{"s":"UNZ13_sat","x":100,"y":0.0}
],
"e":[
{"s":"UNZ14_4","x":0,"y":0.1},{"s":"UNZ14_4","x":2,"y":0.12},{"s":"UNZ14_4","x":4,"y":0.0},{"s":"UNZ14_4","x":6,"y":0.05},{"s":"UNZ14_4","x":8,"y":0.25},{"s":"UNZ14_4","x":9,"y":0.3},{"s":"UNZ14_4","x":12,"y":0.2},{"s":"UNZ14_4","x":15,"y":0.05},{"s":"UNZ14_4","x":18,"y":0.0},{"s":"UNZ14_4","x":22,"y":-0.05},{"s":"UNZ14_4","x":26,"y":0.0},{"s":"UNZ14_4","x":30,"y":-0.05},{"s":"UNZ14_4","x":34,"y":0.08},{"s":"UNZ14_4","x":37,"y":-0.05},{"s":"UNZ14_4","x":40,"y":-0.1},{"s":"UNZ14_4","x":44,"y":-0.2},{"s":"UNZ14_4","x":48,"y":-0.15},{"s":"UNZ14_4","x":52,"y":-0.08},{"s":"UNZ14_4","x":56,"y":-0.15},{"s":"UNZ14_4","x":60,"y":-0.2},{"s":"UNZ14_4","x":64,"y":-0.38},{"s":"UNZ14_4","x":67,"y":-0.25},{"s":"UNZ14_4","x":70,"y":-0.3},{"s":"UNZ14_4","x":73,"y":-0.2},{"s":"UNZ14_4","x":76,"y":-0.5},{"s":"UNZ14_4","x":79,"y":-0.3},{"s":"UNZ14_4","x":82,"y":-0.2},{"s":"UNZ14_4","x":85,"y":-0.17},{"s":"UNZ14_4","x":88,"y":-0.2},{"s":"UNZ14_4","x":92,"y":-0.22},{"s":"UNZ14_4","x":96,"y":-0.23},{"s":"UNZ14_4","x":100,"y":-0.24},
{"s":"UNZ14_11","x":0,"y":0.15},{"s":"UNZ14_11","x":3,"y":0.13},{"s":"UNZ14_11","x":5,"y":-0.12},{"s":"UNZ14_11","x":8,"y":-0.05},{"s":"UNZ14_11","x":11,"y":0.0},{"s":"UNZ14_11","x":14,"y":-0.15},{"s":"UNZ14_11","x":17,"y":-0.02},{"s":"UNZ14_11","x":20,"y":-0.05},{"s":"UNZ14_11","x":24,"y":0.0},{"s":"UNZ14_11","x":28,"y":0.05},{"s":"UNZ14_11","x":32,"y":-0.05},{"s":"UNZ14_11","x":35,"y":0.05},{"s":"UNZ14_11","x":38,"y":-0.1},{"s":"UNZ14_11","x":41,"y":-0.27},{"s":"UNZ14_11","x":44,"y":-0.1},{"s":"UNZ14_11","x":47,"y":0.0},{"s":"UNZ14_11","x":50,"y":-0.15},{"s":"UNZ14_11","x":53,"y":-0.08},{"s":"UNZ14_11","x":56,"y":-0.12},{"s":"UNZ14_11","x":60,"y":-0.15},{"s":"UNZ14_11","x":64,"y":-0.1},{"s":"UNZ14_11","x":68,"y":-0.15},{"s":"UNZ14_11","x":72,"y":-0.2},{"s":"UNZ14_11","x":75,"y":-0.12},{"s":"UNZ14_11","x":77,"y":0.0},{"s":"UNZ14_11","x":79,"y":-0.35},{"s":"UNZ14_11","x":82,"y":-0.6},{"s":"UNZ14_11","x":84,"y":-0.45},{"s":"UNZ14_11","x":86,"y":-0.15},{"s":"UNZ14_11","x":88,"y":-0.18},{"s":"UNZ14_11","x":91,"y":-0.22},{"s":"UNZ14_11","x":95,"y":-0.24},{"s":"UNZ14_11","x":100,"y":-0.25},
{"s":"UNZ14_sat","x":0,"y":0.02},{"s":"UNZ14_sat","x":4,"y":0.0},{"s":"UNZ14_sat","x":8,"y":-0.03},{"s":"UNZ14_sat","x":12,"y":0.0},{"s":"UNZ14_sat","x":16,"y":0.0},{"s":"UNZ14_sat","x":20,"y":0.03},{"s":"UNZ14_sat","x":24,"y":0.0},{"s":"UNZ14_sat","x":28,"y":0.02},{"s":"UNZ14_sat","x":32,"y":0.0},{"s":"UNZ14_sat","x":36,"y":-0.02},{"s":"UNZ14_sat","x":40,"y":-0.08},{"s":"UNZ14_sat","x":44,"y":-0.02},{"s":"UNZ14_sat","x":48,"y":0.0},{"s":"UNZ14_sat","x":52,"y":0.03},{"s":"UNZ14_sat","x":56,"y":0.0},{"s":"UNZ14_sat","x":60,"y":0.03},{"s":"UNZ14_sat","x":64,"y":-0.02},{"s":"UNZ14_sat","x":68,"y":0.04},{"s":"UNZ14_sat","x":72,"y":0.0},{"s":"UNZ14_sat","x":76,"y":0.05},{"s":"UNZ14_sat","x":80,"y":-0.03},{"s":"UNZ14_sat","x":84,"y":-0.05},{"s":"UNZ14_sat","x":88,"y":0.0},{"s":"UNZ14_sat","x":92,"y":-0.12},{"s":"UNZ14_sat","x":96,"y":-0.03},{"s":"UNZ14_sat","x":100,"y":0.02}
],
"j":[
{"s":"UNZ14_2","x":0,"y":0.0},{"s":"UNZ14_2","x":3,"y":-0.05},{"s":"UNZ14_2","x":5,"y":-0.1},{"s":"UNZ14_2","x":8,"y":0.0},{"s":"UNZ14_2","x":12,"y":0.05},{"s":"UNZ14_2","x":15,"y":0.12},{"s":"UNZ14_2","x":18,"y":0.05},{"s":"UNZ14_2","x":21,"y":0.0},{"s":"UNZ14_2","x":24,"y":-0.03},{"s":"UNZ14_2","x":27,"y":0.05},{"s":"UNZ14_2","x":30,"y":0.05},{"s":"UNZ14_2","x":33,"y":0.1},{"s":"UNZ14_2","x":36,"y":0.2},{"s":"UNZ14_2","x":38,"y":0.22},{"s":"UNZ14_2","x":40,"y":0.1},{"s":"UNZ14_2","x":43,"y":-0.05},{"s":"UNZ14_2","x":46,"y":-0.15},{"s":"UNZ14_2","x":50,"y":-0.2},{"s":"UNZ14_2","x":53,"y":-0.18},{"s":"UNZ14_2","x":56,"y":-0.05},{"s":"UNZ14_2","x":60,"y":0.05},{"s":"UNZ14_2","x":64,"y":0.02},{"s":"UNZ14_2","x":68,"y":0.0},{"s":"UNZ14_2","x":72,"y":-0.05},{"s":"UNZ14_2","x":76,"y":-0.1},{"s":"UNZ14_2","x":80,"y":-0.15},{"s":"UNZ14_2","x":84,"y":-0.18},{"s":"UNZ14_2","x":88,"y":-0.12},{"s":"UNZ14_2","x":92,"y":-0.08},{"s":"UNZ14_2","x":95,"y":-0.2},{"s":"UNZ14_2","x":98,"y":-0.05},{"s":"UNZ14_2","x":100,"y":-0.1},
{"s":"UNZ14_5","x":0,"y":0.0},{"s":"UNZ14_5","x":3,"y":0.03},{"s":"UNZ14_5","x":6,"y":0.0},{"s":"UNZ14_5","x":9,"y":-0.05},{"s":"UNZ14_5","x":12,"y":0.0},{"s":"UNZ14_5","x":15,"y":0.05},{"s":"UNZ14_5","x":18,"y":0.08},{"s":"UNZ14_5","x":21,"y":0.12},{"s":"UNZ14_5","x":24,"y":0.17},{"s":"UNZ14_5","x":27,"y":0.15},{"s":"UNZ14_5","x":30,"y":0.12},{"s":"UNZ14_5","x":33,"y":0.08},{"s":"UNZ14_5","x":36,"y":0.08},{"s":"UNZ14_5","x":40,"y":0.05},{"s":"UNZ14_5","x":43,"y":0.0},{"s":"UNZ14_5","x":46,"y":0.02},{"s":"UNZ14_5","x":50,"y":0.05},{"s":"UNZ14_5","x":54,"y":0.1},{"s":"UNZ14_5","x":57,"y":0.12},{"s":"UNZ14_5","x":60,"y":0.08},{"s":"UNZ14_5","x":63,"y":0.1},{"s":"UNZ14_5","x":66,"y":0.14},{"s":"UNZ14_5","x":69,"y":0.05},{"s":"UNZ14_5","x":72,"y":0.08},{"s":"UNZ14_5","x":75,"y":0.12},{"s":"UNZ14_5","x":78,"y":0.05},{"s":"UNZ14_5","x":81,"y":0.0},{"s":"UNZ14_5","x":84,"y":-0.05},{"s":"UNZ14_5","x":88,"y":-0.08},{"s":"UNZ14_5","x":91,"y":-0.1},{"s":"UNZ14_5","x":94,"y":-0.15},{"s":"UNZ14_5","x":97,"y":-0.18},{"s":"UNZ14_5","x":100,"y":-0.18},
{"s":"UNZ14_8","x":0,"y":0.0},{"s":"UNZ14_8","x":2,"y":-0.1},{"s":"UNZ14_8","x":4,"y":-0.2},{"s":"UNZ14_8","x":6,"y":-0.24},{"s":"UNZ14_8","x":8,"y":-0.2},{"s":"UNZ14_8","x":11,"y":-0.1},{"s":"UNZ14_8","x":14,"y":-0.05},{"s":"UNZ14_8","x":17,"y":0.05},{"s":"UNZ14_8","x":20,"y":0.0},{"s":"UNZ14_8","x":23,"y":-0.1},{"s":"UNZ14_8","x":26,"y":-0.1},{"s":"UNZ14_8","x":29,"y":-0.1},{"s":"UNZ14_8","x":32,"y":-0.05},{"s":"UNZ14_8","x":35,"y":0.02},{"s":"UNZ14_8","x":38,"y":-0.1},{"s":"UNZ14_8","x":41,"y":-0.18},{"s":"UNZ14_8","x":44,"y":-0.18},{"s":"UNZ14_8","x":47,"y":-0.1},{"s":"UNZ14_8","x":50,"y":-0.05},{"s":"UNZ14_8","x":54,"y":0.02},{"s":"UNZ14_8","x":57,"y":0.08},{"s":"UNZ14_8","x":60,"y":0.07},{"s":"UNZ14_8","x":63,"y":-0.05},{"s":"UNZ14_8","x":66,"y":-0.1},{"s":"UNZ14_8","x":69,"y":-0.05},{"s":"UNZ14_8","x":72,"y":0.0},{"s":"UNZ14_8","x":75,"y":-0.05},{"s":"UNZ14_8","x":78,"y":-0.07},{"s":"UNZ14_8","x":82,"y":-0.02},{"s":"UNZ14_8","x":85,"y":-0.03},{"s":"UNZ14_8","x":88,"y":-0.15},{"s":"UNZ14_8","x":91,"y":-0.22},{"s":"UNZ14_8","x":94,"y":-0.2},{"s":"UNZ14_8","x":97,"y":-0.28},{"s":"UNZ14_8","x":100,"y":-0.25},
{"s":"UNZ14_sat","x":0,"y":0.0},{"s":"UNZ14_sat","x":5,"y":0.03},{"s":"UNZ14_sat","x":10,"y":0.0},{"s":"UNZ14_sat","x":15,"y":-0.02},{"s":"UNZ14_sat","x":20,"y":0.0},{"s":"UNZ14_sat","x":25,"y":0.02},{"s":"UNZ14_sat","x":30,"y":-0.01},{"s":"UNZ14_sat","x":35,"y":0.0},{"s":"UNZ14_sat","x":40,"y":-0.01},{"s":"UNZ14_sat","x":45,"y":-0.02},{"s":"UNZ14_sat","x":50,"y":-0.03},{"s":"UNZ14_sat","x":55,"y":-0.02},{"s":"UNZ14_sat","x":60,"y":0.0},{"s":"UNZ14_sat","x":65,"y":-0.01},{"s":"UNZ14_sat","x":70,"y":0.02},{"s":"UNZ14_sat","x":75,"y":0.03},{"s":"UNZ14_sat","x":80,"y":0.0},{"s":"UNZ14_sat","x":85,"y":-0.02},{"s":"UNZ14_sat","x":90,"y":0.0},{"s":"UNZ14_sat","x":95,"y":-0.01},{"s":"UNZ14_sat","x":100,"y":0.0}
]
},
"columns":2,
"spacing":{"row":30,"column":37},
"bounds":"flush",
"resolve":{"scale":{"x":"independent","y":"independent","color":"independent"},"legend":{"color":"independent"}},
"concat":[
{"width":136,"height":139,"data":{"name":"a"},"title":{"text":"(a)","dx":-35},"layer":[
{"mark":"line","encoding":{"x":{"field":"x","type":"quantitative","scale":{"domain":[0,100],"nice":false},"axis":{"values":[0,20,40,60,80,100],"title":"Time to failure (%)"}},"y":{"field":"y","type":"quantitative","scale":{"domain":[-0.6,0.6],"nice":false},"axis":{"values":[-0.6,-0.4,-0.2,0,0.2,0.4,0.6],"title":"Velocity change (%)"}},"color":{"field":"s","type":"nominal","title":null,"scale":{"domain":["UNZ1_1","UNZ1_2","UNZ1_4","UNZ1_sat"],"range":["#2db46e","#1d7a3c","#33e3b5","#9a9a9a"]}}}},
{"mark":{"type":"rule","color":"#666","strokeWidth":1},"encoding":{"y":{"datum":0}}}]},
{"width":136,"height":139,"data":{"name":"f"},"title":{"text":"(f)","dx":-31},"layer":[
{"mark":"line","encoding":{"x":{"field":"x","type":"quantitative","scale":{"domain":[0,100],"nice":false},"axis":{"values":[0,20,40,60,80,100],"title":"Time to failure (%)"}},"y":{"field":"y","type":"quantitative","scale":{"domain":[-0.5,0.5],"nice":false},"axis":{"values":[-0.5,-0.4,-0.3,-0.2,-0.1,0,0.1,0.2,0.3,0.4,0.5],"title":"Velocity change (%)"}},"color":{"field":"s","type":"nominal","title":null,"scale":{"domain":["UNZ1_1","UNZ1_7","UNZ1_12","UNZ1_sat"],"range":["#35b070","#1f6e3a","#3fe0b0","#9a9a9a"]}}}},
{"mark":{"type":"rule","color":"#666","strokeWidth":1},"encoding":{"y":{"datum":0}}}]},
{"width":136,"height":139,"data":{"name":"b"},"title":{"text":"(b)","dx":-35},"layer":[
{"mark":"line","encoding":{"x":{"field":"x","type":"quantitative","scale":{"domain":[0,100],"nice":false},"axis":{"values":[0,20,40,60,80,100],"title":"Time to failure (%)"}},"y":{"field":"y","type":"quantitative","scale":{"domain":[-0.6,0.6],"nice":false},"axis":{"values":[-0.6,-0.4,-0.2,0,0.2,0.4,0.6],"title":"Velocity change (%)"}},"color":{"field":"s","type":"nominal","title":null,"scale":{"domain":["UNZ9a_5","UNZ9a_8","UNZ9a_11","UNZ9a_sat"],"range":["#e8782a","#f59a35","#a0501f","#8d9bb0"]}}}},
{"mark":{"type":"rule","color":"#666","strokeWidth":1},"encoding":{"y":{"datum":0}}}]},
{"width":136,"height":139,"data":{"name":"g"},"title":{"text":"(g)","dx":-31},"layer":[
{"mark":"line","encoding":{"x":{"field":"x","type":"quantitative","scale":{"domain":[0,100],"nice":false},"axis":{"values":[0,20,40,60,80,100],"title":"Time to failure (%)"}},"y":{"field":"y","type":"quantitative","scale":{"domain":[-0.5,0.5],"nice":false},"axis":{"values":[-0.5,-0.4,-0.3,-0.2,-0.1,0,0.1,0.2,0.3,0.4,0.5],"title":"Velocity change (%)"}},"color":{"field":"s","type":"nominal","title":null,"scale":{"domain":["UNZ9a_4","UNZ9a_6","UNZ9a_9","UNZ9a_sat"],"range":["#e8721f","#f5a444","#8b3f14","#9a9a9a"]}}}},
{"mark":{"type":"rule","color":"#666","strokeWidth":1},"encoding":{"y":{"datum":0}}}]},
{"width":136,"height":139,"data":{"name":"c"},"title":{"text":"(c)","dx":-35},"layer":[
{"mark":"line","encoding":{"x":{"field":"x","type":"quantitative","scale":{"domain":[0,100],"nice":false},"axis":{"values":[0,20,40,60,80,100],"title":"Time to failure (%)"}},"y":{"field":"y","type":"quantitative","scale":{"domain":[-0.6,0.6],"nice":false},"axis":{"values":[-0.6,-0.4,-0.2,0,0.2,0.4,0.6],"title":"Velocity change (%)"}},"color":{"field":"s","type":"nominal","title":null,"scale":{"domain":["UNZ9b_1","UNZ9b_9","UNZ9b_10","UNZ9b_sat"],"range":["#8a6c1c","#f2c418","#c9962f","#8090ab"]},"legend":{"orient":"bottom-right"}}}},
{"mark":{"type":"rule","color":"#666","strokeWidth":1},"encoding":{"y":{"datum":0}}}]},
{"width":136,"height":139,"data":{"name":"h"},"title":{"text":"(h)","dx":-31},"layer":[
{"mark":"line","encoding":{"x":{"field":"x","type":"quantitative","scale":{"domain":[0,100],"nice":false},"axis":{"values":[0,20,40,60,80,100],"title":"Time to failure (%)"}},"y":{"field":"y","type":"quantitative","scale":{"domain":[-0.5,0.5],"nice":false},"axis":{"values":[-0.5,-0.4,-0.3,-0.2,-0.1,0,0.1,0.2,0.3,0.4,0.5],"title":"Velocity change (%)"}},"color":{"field":"s","type":"nominal","title":null,"scale":{"domain":["UNZ9b_1","UNZ9b_4","UNZ9b_5","UNZ9b_sat"],"range":["#7d5c1a","#f5c51a","#c09a2e","#9a9a9a"]}}}},
{"mark":{"type":"rule","color":"#666","strokeWidth":1},"encoding":{"y":{"datum":0}}}]},
{"width":136,"height":139,"data":{"name":"d"},"title":{"text":"(d)","dx":-35},"layer":[
{"mark":"line","encoding":{"x":{"field":"x","type":"quantitative","scale":{"domain":[0,100],"nice":false},"axis":{"values":[0,20,40,60,80,100],"title":"Time to failure (%)"}},"y":{"field":"y","type":"quantitative","scale":{"domain":[-0.6,0.6],"nice":false},"axis":{"values":[-0.6,-0.4,-0.2,0,0.2,0.4,0.6],"title":"Velocity change (%)"}},"color":{"field":"s","type":"nominal","title":null,"scale":{"domain":["UNZ13_2","UNZ13_9","UNZ13_sat"],"range":["#2a8cbf","#1a3d5c","#a0a0a0"]}}}},
{"mark":{"type":"rule","color":"#666","strokeWidth":1},"encoding":{"y":{"datum":0}}}]},
{"width":136,"height":139,"data":{"name":"i"},"title":{"text":"(i)","dx":-31},"layer":[
{"mark":"line","encoding":{"x":{"field":"x","type":"quantitative","scale":{"domain":[0,100],"nice":false},"axis":{"values":[0,20,40,60,80,100],"title":"Time to failure (%)"}},"y":{"field":"y","type":"quantitative","scale":{"domain":[-0.5,0.5],"nice":false},"axis":{"values":[-0.5,-0.4,-0.3,-0.2,-0.1,0,0.1,0.2,0.3,0.4,0.5],"title":"Velocity change (%)"}},"color":{"field":"s","type":"nominal","title":null,"scale":{"domain":["UNZ13_8","UNZ13_9","UNZ13_14","UNZ13_sat"],"range":["#6aaed8","#1a3d5c","#1f80b0","#a8a8a8"]}}}},
{"mark":{"type":"rule","color":"#666","strokeWidth":1},"encoding":{"y":{"datum":0}}}]},
{"width":136,"height":139,"data":{"name":"e"},"title":{"text":"(e)","dx":-35},"layer":[
{"mark":"line","encoding":{"x":{"field":"x","type":"quantitative","scale":{"domain":[0,100],"nice":false},"axis":{"values":[0,20,40,60,80,100],"title":"Time to failure (%)"}},"y":{"field":"y","type":"quantitative","scale":{"domain":[-0.6,0.6],"nice":false},"axis":{"values":[-0.6,-0.4,-0.2,0,0.2,0.4,0.6],"title":"Velocity change (%)"}},"color":{"field":"s","type":"nominal","title":null,"scale":{"domain":["UNZ14_4","UNZ14_11","UNZ14_sat"],"range":["#4ab5e0","#18c6ea","#808080"]}}}},
{"mark":{"type":"rule","color":"#666","strokeWidth":1},"encoding":{"y":{"datum":0}}}]},
{"width":136,"height":139,"data":{"name":"j"},"title":{"text":"(j)","dx":-31},"layer":[
{"mark":"line","encoding":{"x":{"field":"x","type":"quantitative","scale":{"domain":[0,100],"nice":false},"axis":{"values":[0,20,40,60,80,100],"title":"Time to failure (%)"}},"y":{"field":"y","type":"quantitative","scale":{"domain":[-0.5,0.5],"nice":false},"axis":{"values":[-0.5,-0.4,-0.3,-0.2,-0.1,0,0.1,0.2,0.3,0.4,0.5],"title":"Velocity change (%)"}},"color":{"field":"s","type":"nominal","title":null,"scale":{"domain":["UNZ14_2","UNZ14_5","UNZ14_8","UNZ14_sat"],"range":["#8ee0ee","#3f8fc0","#22c4d4","#6a5a5a"]}}}},
{"mark":{"type":"rule","color":"#666","strokeWidth":1},"encoding":{"y":{"datum":0}}}]}
]
}
